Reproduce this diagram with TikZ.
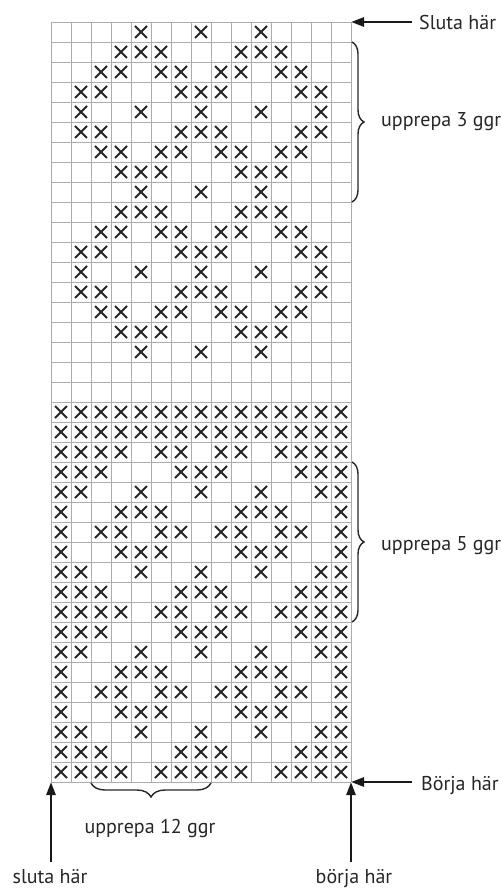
\documentclass[tikz,border=0pt]{standalone}
\usepackage{fontspec}
\setmainfont{PT Sans}
\usetikzlibrary{arrows.meta,decorations.pathreplacing}

\begin{document}
\begin{tikzpicture}[x=1pt, y=-1pt,
    gridline/.style={draw=gray!65, line width=0.9pt},
    stitch/.style={draw=black!85, line width=1.8pt},
    pointer/.style={draw=black!90, line width=2.6pt, -{Triangle[length=13pt,width=9pt]}},
    bracket/.style={draw=black!85, line width=1.4pt, decorate, decoration={brace, amplitude=#1}},
    caption/.style={font=\fontsize{20}{24}\selectfont, text=black!85, inner sep=0pt}]
    \useasboundingbox (0,0) rectangle (502,890);

    % Draw grid
    \foreach \i in {0,...,15}
        \draw[gridline] (51+20*\i,22) -- (51+20*\i,782);
    \foreach \j in {0,...,38}
        \draw[gridline] (51,22+20*\j) -- (351,22+20*\j);

    % Corners of the chart
    \coordinate (topright) at (351,22);
    \coordinate (botright) at (351,782);
    \coordinate (botleft) at (51,782);

    % Draw stitches
    \foreach \r/\cols in {1/{5,8,11}, 2/{4,5,6,10,11,12}, 3/{3,4,6,7,9,10,12,13},
        4/{2,3,7,8,9,13,14}, 5/{2,5,8,11,14}, 6/{2,3,7,8,9,13,14},
        7/{3,4,6,7,9,10,12,13}, 8/{4,5,6,10,11,12}, 9/{5,8,11},
        10/{4,5,6,10,11,12}, 11/{3,4,6,7,9,10,12,13}, 12/{2,3,7,8,9,13,14},
        13/{2,5,8,11,14}, 14/{2,3,7,8,9,13,14}, 15/{3,4,6,7,9,10,12,13},
        16/{4,5,6,10,11,12}, 17/{5,8,11},
        20/{1,2,3,4,5,6,7,8,9,10,11,12,13,14,15},
        21/{1,2,3,4,5,6,7,8,9,10,11,12,13,14,15},
        22/{1,2,3,4,6,7,9,10,12,13,14,15}, 23/{1,2,3,7,8,9,13,14,15},
        24/{1,2,5,8,11,14,15}, 25/{1,4,5,6,10,11,12,15},
        26/{1,3,4,6,7,9,10,12,13,15}, 27/{1,4,5,6,10,11,12,15},
        28/{1,2,5,8,11,14,15}, 29/{1,2,3,7,8,9,13,14,15},
        30/{1,2,3,4,6,7,9,10,12,13,14,15}, 31/{1,2,3,7,8,9,13,14,15},
        32/{1,2,5,8,11,14,15}, 33/{1,4,5,6,10,11,12,15},
        34/{1,3,4,6,7,9,10,12,13,15}, 35/{1,4,5,6,10,11,12,15},
        36/{1,2,5,8,11,14,15}, 37/{1,2,3,7,8,9,13,14,15},
        38/{1,2,3,4,6,7,8,9,10,12,13,14,15}}
        \foreach \c in \cols
            \draw[stitch] (35+20*\c,6+20*\r) -- ++(12,12)
                          (47+20*\c,6+20*\r) -- ++(-12,12);

    % Braces
    \coordinate (rep3a) at (352,42);
    \coordinate (rep3b) at (352,202);
    \coordinate (rep5a) at (352,462);
    \coordinate (rep5b) at (352,622);
    \coordinate (rep12a) at (211,783);
    \coordinate (rep12b) at (91,783);
    \draw[bracket=12pt] (rep3a) -- (rep3b);
    \draw[bracket=12pt] (rep5a) -- (rep5b);
    \draw[bracket=14pt] (rep12a) -- (rep12b);

    % Labels
    \node[caption, anchor=base west] (slutaR) at (419,30) {Sluta här};
    \node[caption, anchor=base west] (rep3) at (381,127) {upprepa 3 ggr};
    \node[caption, anchor=base west] (rep5) at (381,550) {upprepa 5 ggr};
    \node[caption, anchor=base west] (borjaR) at (421,790) {Börja här};
    \node[caption, anchor=base] (rep12) at (150,833) {upprepa 12 ggr};
    \node[caption, anchor=base] (slutaB) at (50,883) {sluta här};
    \node[caption, anchor=base] (borjaB) at (354,883) {börja här};

    % Draw arrows
    \coordinate (slutaTail) at (412,22);
    \coordinate (borjaTail) at (412,782);
    \coordinate (slutaUp) at (51,862);
    \coordinate (borjaUp) at (351,862);
    \draw[pointer] (slutaTail) -- (topright);
    \draw[pointer] (borjaTail) -- (botright);
    \draw[pointer] (slutaUp) -- (botleft);
    \draw[pointer] (borjaUp) -- (botright);
\end{tikzpicture}
\end{document}
